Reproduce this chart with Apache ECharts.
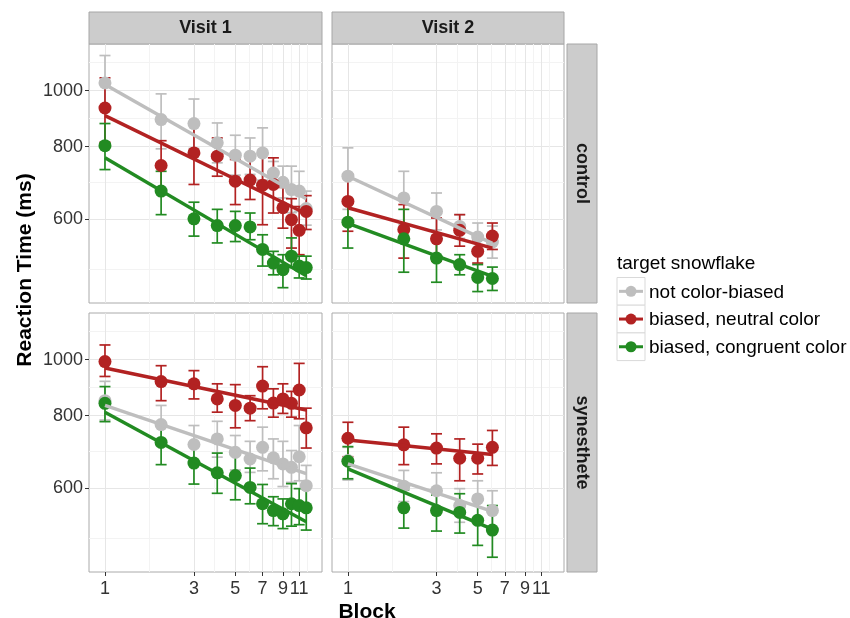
<!DOCTYPE html>
<html>
<head>
<meta charset="utf-8">
<script src="https://cdn.jsdelivr.net/npm/echarts@6/dist/echarts.min.js"></script>
<style>
  html, body { margin: 0; padding: 0; background: #fff; }
  #chart { width: 850px; height: 618px; }
</style>
</head>
<body>
<div id="chart"></div>
<script>
// groups: not color-biased, biased neutral, biased congruent
const groups = ["not color-biased", "biased, neutral color", "biased, congruent color"];
const groupColors = ["#bebebe", "#b22222", "#228b22"];

const xTicks = [1, 3, 5, 7, 9, 11];
const xMinor = [1.732, 3.873, 5.916, 7.937, 9.95, 12.16];
const yTicks = [600, 800, 1000];
const yMinor = [490, 693, 894, 1118];

const blocksV1 = [1, 2, 3, 4, 5, 6, 7, 8, 9, 10, 11, 12];
const blocksV2 = [1, 2, 3, 4, 5, 6];

// control, visit 1  (rows: gray, red, green)
const ctrlV1Mean = [
  [1031, 891, 877, 812, 773, 770, 780, 720, 694, 674, 670, 625],
  [933, 742, 780, 770, 697, 700, 686, 688, 627, 598, 573, 618],
  [803, 670, 600, 584, 584, 581, 531, 503, 490, 517, 497, 494]
];
const ctrlV1Lo = [
  [924, 793, 794, 750, 714, 716, 700, 688, 652, 615, 618, 585],
  [814, 671, 688, 711, 635, 648, 586, 614, 578, 534, 520, 575],
  [730, 610, 560, 545, 548, 552, 497, 480, 456, 494, 474, 472]
];
const ctrlV1Hi = [
  [1150, 987, 967, 879, 837, 828, 862, 754, 740, 740, 725, 670],
  [1052, 819, 873, 828, 760, 765, 780, 765, 680, 650, 630, 658],
  [877, 725, 641, 623, 618, 614, 563, 527, 520, 556, 517, 517]
];
const ctrlV1Fit = [[1025, 650], [905, 612], [765, 478]];

// control, visit 2
const ctrlV2Mean = [
  [711, 652, 618, 582, 558, 547],
  [643, 575, 554, 573, 527, 560],
  [592, 554, 513, 500, 475, 473]
];
const ctrlV2Lo = [
  [623, 586, 574, 555, 528, 513],
  [571, 513, 507, 538, 503, 531],
  [534, 485, 466, 480, 449, 451]
];
const ctrlV2Hi = [
  [796, 725, 665, 610, 590, 583],
  [716, 635, 602, 610, 552, 590],
  [643, 623, 560, 520, 500, 495]
];
const ctrlV2Fit = [[711, 544], [627, 534], [589, 477]];

// synesthete, visit 1
const synV1Mean = [
  [849, 772, 713, 729, 691, 673, 705, 676, 660, 651, 679, 605],
  [992, 916, 908, 855, 833, 824, 900, 841, 855, 840, 886, 762],
  [840, 719, 662, 637, 630, 601, 563, 548, 541, 563, 559, 554]
];
const synV1Lo = [
  [786, 710, 660, 678, 644, 638, 642, 622, 603, 613, 617, 559],
  [935, 849, 855, 811, 762, 784, 822, 795, 807, 795, 790, 703],
  [781, 658, 609, 587, 572, 563, 520, 516, 510, 515, 518, 507]
];
const synV1Hi = [
  [917, 833, 769, 782, 739, 722, 764, 729, 722, 696, 769, 656],
  [1060, 976, 957, 908, 905, 866, 972, 890, 908, 881, 985, 824],
  [898, 774, 713, 689, 685, 649, 608, 579, 574, 610, 598, 601]
];
const synV1Fit = [[833, 635], [967, 818], [811, 524]];

// synesthete, visit 2
const synV2Mean = [
  [669, 604, 593, 559, 574, 548],
  [731, 712, 703, 675, 675, 705],
  [667, 554, 548, 544, 527, 507]
];
const synV2Lo = [
  [619, 568, 555, 523, 533, 503],
  [679, 658, 660, 617, 634, 656],
  [622, 511, 505, 501, 477, 455]
];
const synV2Hi = [
  [705, 643, 637, 598, 617, 593],
  [779, 764, 744, 729, 714, 754],
  [707, 595, 583, 586, 572, 559]
];
const synV2Fit = [[660, 546], [726, 685], [647, 509]];

const font = "'Liberation Sans', Arial, Helvetica, sans-serif";
const xMin = 0.821, xMax = 14.58;
const yMin = 429, yMax = 1204;

const panels = [
  { left: 89, top: 44, width: 233, blocks: blocksV1, mean: ctrlV1Mean, lo: ctrlV1Lo, hi: ctrlV1Hi, fit: ctrlV1Fit, xLab: false, yLab: true },
  { left: 332, top: 44, width: 232, blocks: blocksV2, mean: ctrlV2Mean, lo: ctrlV2Lo, hi: ctrlV2Hi, fit: ctrlV2Fit, xLab: false, yLab: false },
  { left: 89, top: 313, width: 233, blocks: blocksV1, mean: synV1Mean, lo: synV1Lo, hi: synV1Hi, fit: synV1Fit, xLab: true, yLab: true },
  { left: 332, top: 313, width: 232, blocks: blocksV2, mean: synV2Mean, lo: synV2Lo, hi: synV2Hi, fit: synV2Fit, xLab: true, yLab: false }
];

function errorBar(params, api) {
  const x = api.value(0);
  const top = api.coord([x, api.value(2)]);
  const bot = api.coord([x, api.value(1)]);
  const w = 5.5;
  const style = { stroke: api.visual('color'), lineWidth: 1.7 };
  return {
    type: 'group',
    children: [
      { type: 'line', shape: { x1: top[0], y1: top[1], x2: bot[0], y2: bot[1] }, style: style },
      { type: 'line', shape: { x1: top[0] - w, y1: top[1], x2: top[0] + w, y2: top[1] }, style: style },
      { type: 'line', shape: { x1: bot[0] - w, y1: bot[1], x2: bot[0] + w, y2: bot[1] }, style: style }
    ]
  };
}

const grids = [], xAxes = [], yAxes = [], series = [];

panels.forEach((p, i) => {
  grids.push({ left: p.left, top: p.top, width: p.width, height: 259, show: true,
    borderColor: '#aaaaaa', borderWidth: 1, backgroundColor: '#fff' });

  xAxes.push({
    type: 'log', logBase: 10, gridIndex: i, min: xMin, max: xMax,
    axisLine: { show: false },
    axisTick: { show: p.xLab, customValues: xTicks, length: 4, lineStyle: { color: '#333' } },
    axisLabel: { show: p.xLab, customValues: xTicks, formatter: v => String(Math.round(v)),
      fontSize: 18, color: '#333', margin: 8, fontFamily: font },
    splitLine: { show: true, lineStyle: { color: '#e6e6e6', width: 1 } }
  });
  xAxes.push({
    type: 'log', logBase: 10, gridIndex: i, min: xMin, max: xMax, position: 'bottom',
    axisLine: { show: false },
    axisTick: { show: false, customValues: xMinor },
    axisLabel: { show: false, customValues: xMinor },
    splitLine: { show: true, lineStyle: { color: '#f3f3f3', width: 1 } }
  });
  yAxes.push({
    type: 'log', logBase: 10, gridIndex: i, min: yMin, max: yMax,
    axisLine: { show: false },
    axisTick: { show: p.yLab, customValues: yTicks, length: 4, lineStyle: { color: '#333' } },
    axisLabel: { show: p.yLab, customValues: yTicks, formatter: v => String(Math.round(v)),
      fontSize: 18, color: '#333', margin: 6, fontFamily: font },
    splitLine: { show: true, lineStyle: { color: '#e6e6e6', width: 1 } }
  });
  yAxes.push({
    type: 'log', logBase: 10, gridIndex: i, min: yMin, max: yMax, position: 'left',
    axisLine: { show: false },
    axisTick: { show: false, customValues: yMinor },
    axisLabel: { show: false, customValues: yMinor },
    splitLine: { show: true, lineStyle: { color: '#f3f3f3', width: 1 } }
  });

  const last = p.blocks[p.blocks.length - 1];
  groups.forEach((g, k) => {
    const color = groupColors[k];
    series.push({
      type: 'custom', name: g, xAxisIndex: 2 * i, yAxisIndex: 2 * i, z: 2, silent: true,
      itemStyle: { color: color },
      encode: { x: 0, y: [1, 2] },
      data: p.blocks.map((b, j) => [b, p.lo[k][j], p.hi[k][j]]),
      renderItem: errorBar
    });
    series.push({
      type: 'scatter', name: g, xAxisIndex: 2 * i, yAxisIndex: 2 * i, z: 3, silent: true,
      symbolSize: 13, itemStyle: { color: color, opacity: 1 },
      data: p.blocks.map((b, j) => [b, p.mean[k][j]])
    });
    series.push({
      type: 'line', name: g, xAxisIndex: 2 * i, yAxisIndex: 2 * i, z: 4, silent: true,
      showSymbol: false, lineStyle: { color: color, width: 3.4 },
      data: [[1, p.fit[k][0]], [last, p.fit[k][1]]]
    });
  });
});

const stripStyle = { fill: '#cccccc', stroke: '#a6a6a6', lineWidth: 1 };
const stripText = { fontSize: 18, fontWeight: 'bold', fill: '#1a1a1a', fontFamily: font,
  align: 'center', verticalAlign: 'middle' };

const graphic = [
  { type: 'rect', shape: { x: 89, y: 12, width: 233, height: 32 }, style: stripStyle },
  { type: 'text', x: 205.5, y: 28, style: Object.assign({ text: 'Visit 1' }, stripText) },
  { type: 'rect', shape: { x: 332, y: 12, width: 232, height: 32 }, style: stripStyle },
  { type: 'text', x: 448, y: 28, style: Object.assign({ text: 'Visit 2' }, stripText) },
  { type: 'rect', shape: { x: 567, y: 44, width: 30, height: 259 }, style: stripStyle },
  { type: 'text', x: 582, y: 173.5, rotation: -Math.PI / 2, style: Object.assign({ text: 'control' }, stripText) },
  { type: 'rect', shape: { x: 567, y: 313, width: 30, height: 259 }, style: stripStyle },
  { type: 'text', x: 582, y: 442.5, rotation: -Math.PI / 2, style: Object.assign({ text: 'synesthete' }, stripText) },
  { type: 'text', x: 25, y: 270, rotation: Math.PI / 2,
    style: { text: 'Reaction Time (ms)', fontSize: 21, fontWeight: 'bold', fill: '#000', fontFamily: font,
      align: 'center', verticalAlign: 'middle' } },
  { type: 'text', x: 367, y: 612,
    style: { text: 'Block', fontSize: 21, fontWeight: 'bold', fill: '#000', fontFamily: font,
      align: 'center', verticalAlign: 'middle' } },
  { type: 'text', x: 617, y: 264,
    style: { text: 'target snowflake', fontSize: 19, fill: '#000', fontFamily: font, align: 'left', verticalAlign: 'middle' } }
];
groups.forEach((g, k) => {
  const y0 = 277.5 + k * 27.7;
  const cy = y0 + 13.85;
  graphic.push({ type: 'rect', shape: { x: 617, y: y0, width: 28, height: 27.7 }, style: { fill: '#fff', stroke: '#d9d9d9', lineWidth: 1 } });
  graphic.push({ type: 'line', shape: { x1: 619, y1: cy, x2: 643, y2: cy }, style: { stroke: groupColors[k], lineWidth: 3 } });
  graphic.push({ type: 'circle', shape: { cx: 631, cy: cy, r: 5.5 }, style: { fill: groupColors[k] } });
  graphic.push({ type: 'text', x: 649, y: cy + 1,
    style: { text: g, fontSize: 19, fill: '#000', fontFamily: font, align: 'left', verticalAlign: 'middle' } });
});

const chart = echarts.init(document.getElementById('chart'), null, { renderer: 'canvas' });
chart.setOption({
  animation: false,
  backgroundColor: '#fff',
  textStyle: { fontFamily: font },
  grid: grids,
  xAxis: xAxes,
  yAxis: yAxes,
  series: series,
  graphic: graphic
});
</script>
</body>
</html>
